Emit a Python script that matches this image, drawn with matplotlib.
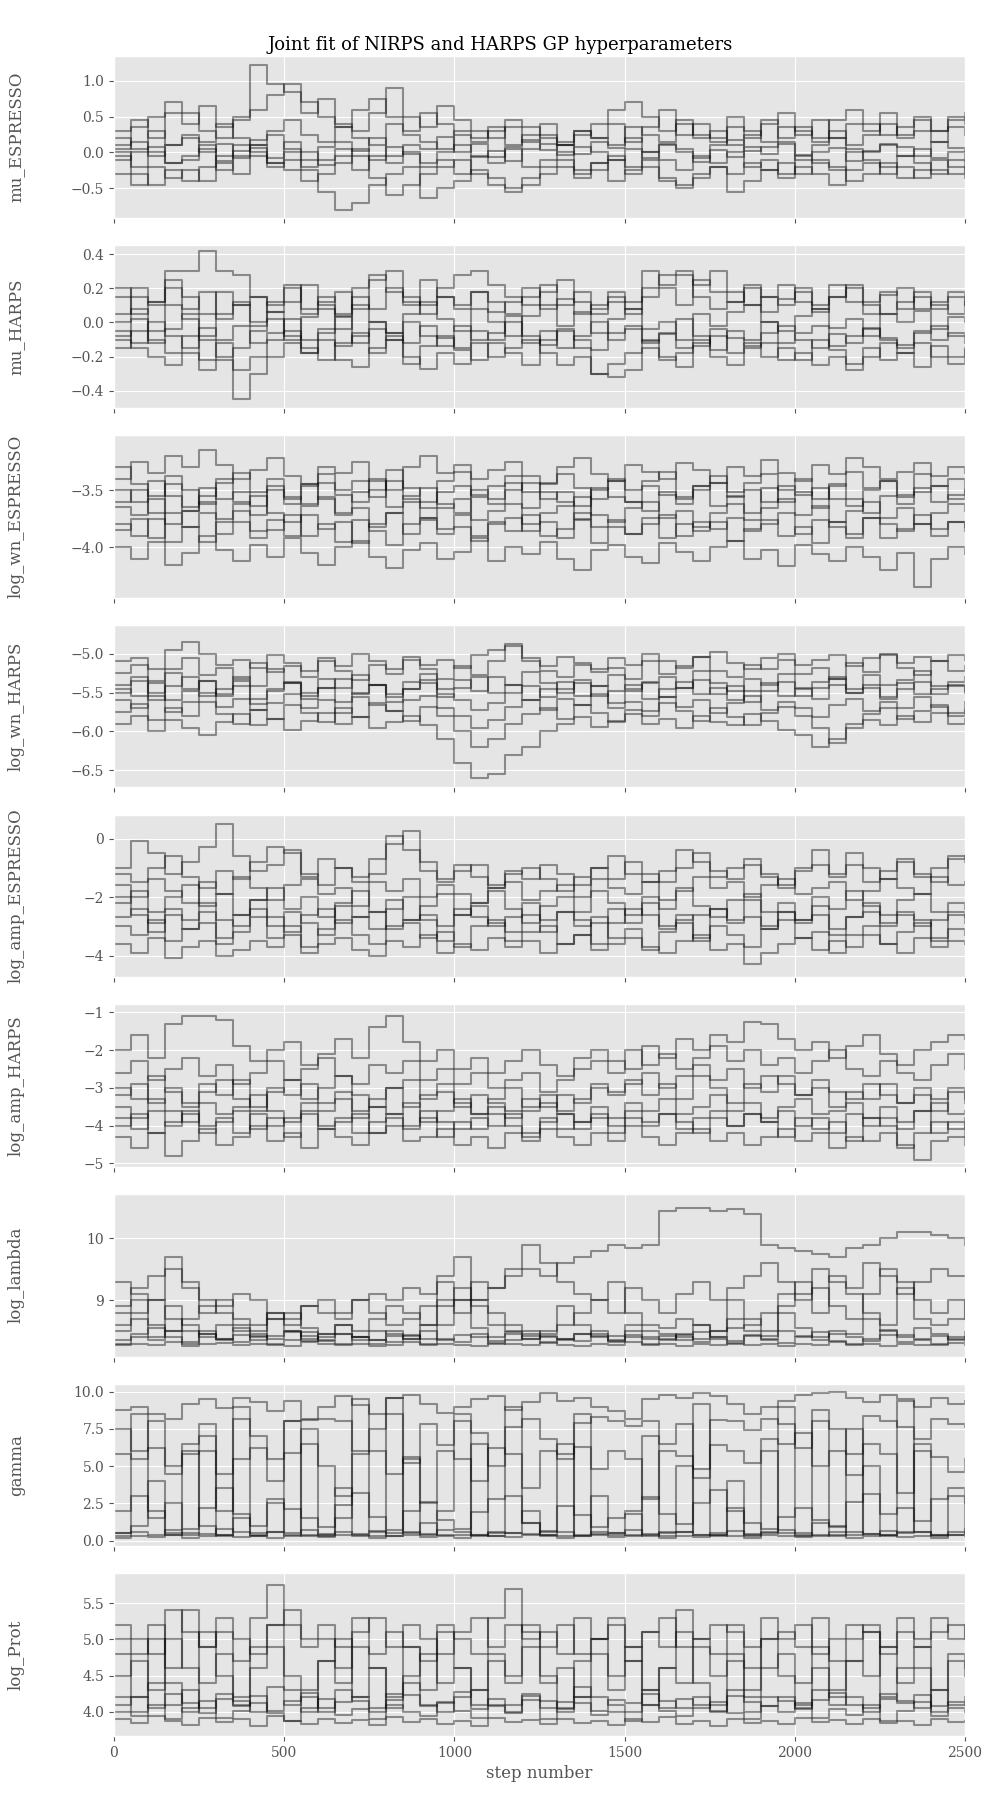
import numpy as np
import matplotlib
matplotlib.use('Agg')
import matplotlib.pyplot as plt

# walker traces, one value every 50 steps (0..2500)
mu_espresso = [
    [0.05, 0.15, -0.05, 0.10, 0.20, 0.00, 0.12, -0.08, 0.18, 0.25, 0.05, -0.10, 0.08, 0.15, 0.02, 0.20, -0.05, 0.10, 0.05, 0.22, 0.00, 0.12, -0.06, 0.08, 0.18, 0.03, 0.10, -0.02, 0.15, 0.06, 0.20, 0.00, 0.12, 0.05, -0.08, 0.10, 0.18, 0.02, 0.08, 0.14, -0.04, 0.10, 0.20, 0.05, 0.00, 0.12, 0.08, -0.05, 0.15, 0.06, 0.02],
    [-0.10, 0.00, 0.08, -0.15, -0.05, 0.10, -0.12, 0.02, 0.06, -0.08, 0.15, 0.00, -0.18, -0.05, 0.05, -0.10, 0.08, -0.02, -0.15, 0.00, 0.10, -0.06, 0.02, -0.12, 0.05, 0.12, -0.04, 0.08, 0.00, -0.10, 0.05, -0.08, 0.10, 0.00, -0.14, 0.04, -0.06, 0.08, -0.02, 0.12, -0.10, 0.00, 0.06, -0.12, 0.02, 0.10, -0.05, 0.05, -0.08, 0.00, -0.12],
    [0.30, 0.45, 0.20, 0.55, 0.40, 0.65, 0.35, 0.50, 1.22, 0.95, 0.85, 0.55, 0.75, 0.40, 0.30, 0.55, 0.90, 0.50, 0.35, 0.65, 0.45, 0.30, 0.20, 0.35, 0.15, 0.25, 0.10, 0.30, 0.20, 0.40, 0.15, 0.35, 0.60, 0.25, 0.40, 0.20, 0.50, 0.30, 0.15, 0.35, 0.25, 0.45, 0.20, 0.40, 0.30, 0.55, 0.25, 0.45, 0.30, 0.50, 0.40],
    [-0.30, -0.45, -0.20, -0.35, -0.25, -0.40, -0.15, -0.30, -0.05, -0.20, -0.10, -0.25, -0.55, -0.80, -0.70, -0.45, -0.30, -0.20, -0.63, -0.50, -0.40, -0.25, -0.35, -0.55, -0.45, -0.30, -0.20, -0.35, -0.25, -0.10, -0.30, -0.20, -0.40, -0.50, -0.35, -0.20, -0.30, -0.15, -0.25, -0.35, -0.20, -0.30, -0.45, -0.25, -0.15, -0.30, -0.20, -0.35, -0.25, -0.30, -0.20],
    [0.20, 0.05, 0.30, 0.10, 0.25, 0.15, 0.40, 0.20, 0.10, 0.30, 0.45, 0.25, 0.15, 0.35, 0.20, 0.10, 0.40, 0.25, 0.15, 0.05, 0.30, 0.20, 0.35, 0.10, 0.25, 0.40, 0.15, 0.30, 0.20, 0.10, 0.35, 0.25, 0.15, 0.40, 0.20, 0.30, 0.10, 0.25, 0.45, 0.20, 0.35, 0.15, 0.30, 0.10, 0.25, 0.40, 0.20, 0.30, 0.15, 0.35, 0.25],
    [-0.05, -0.20, 0.00, -0.15, -0.10, 0.05, -0.25, -0.05, 0.10, -0.15, 0.00, -0.20, -0.10, 0.05, -0.25, -0.05, -0.15, 0.00, -0.20, -0.10, -0.30, -0.05, -0.15, 0.05, -0.20, -0.10, 0.00, -0.25, -0.15, -0.05, -0.20, 0.00, -0.10, -0.25, -0.05, -0.15, 0.00, -0.20, -0.10, -0.30, -0.05, -0.15, -0.25, 0.00, -0.10, -0.20, -0.05, -0.15, -0.30, -0.10, -0.20],
    [0.10, 0.35, 0.50, 0.70, 0.55, 0.30, 0.20, 0.45, 0.60, 0.80, 0.95, 0.70, 0.50, 0.35, 0.60, 0.75, 0.50, 0.30, 0.55, 0.40, 0.25, 0.15, 0.30, 0.45, 0.35, 0.20, 0.10, 0.25, 0.40, 0.60, 0.70, 0.50, 0.30, 0.45, 0.25, 0.15, 0.35, 0.20, 0.40, 0.55, 0.30, 0.20, 0.45, 0.60, 0.40, 0.25, 0.35, 0.50, 0.30, 0.45, 0.55],
    [0.00, -0.30, -0.45, -0.25, -0.40, -0.20, -0.05, 0.10, 0.00, -0.15, -0.25, -0.40, -0.30, -0.15, -0.05, -0.35, -0.60, -0.45, -0.30, -0.20, -0.10, -0.30, -0.45, -0.50, -0.35, -0.20, -0.10, -0.30, -0.15, -0.40, -0.25, -0.10, -0.35, -0.45, -0.30, -0.20, -0.55, -0.40, -0.25, -0.15, -0.30, -0.10, -0.20, -0.40, -0.30, -0.15, -0.35, -0.25, -0.10, -0.20, -0.35],
]
mu_harps = [
    [0.00, 0.08, -0.05, 0.10, 0.02, -0.08, 0.05, 0.12, -0.02, 0.06, -0.10, 0.03, 0.08, -0.04, 0.10, 0.00, -0.06, 0.05, 0.12, 0.02, -0.05, 0.08, 0.00, -0.08, 0.04, 0.10, -0.02, 0.06, -0.06, 0.02, 0.08, -0.04, 0.00, -0.10, 0.05, -0.02, 0.06, 0.10, 0.00, -0.05, 0.04, 0.08, -0.03, 0.02, -0.08, 0.05, 0.00, 0.07, -0.04, 0.03, 0.00],
    [-0.05, -0.12, 0.00, -0.08, -0.15, -0.03, -0.10, -0.02, -0.12, -0.06, 0.02, -0.10, -0.04, -0.14, -0.08, 0.00, -0.06, -0.12, -0.02, -0.09, -0.15, -0.05, -0.10, 0.00, -0.08, -0.13, -0.04, -0.10, -0.16, -0.06, -0.02, -0.11, -0.07, -0.15, -0.12, -0.04, -0.09, -0.14, -0.06, -0.02, -0.10, -0.15, -0.07, -0.12, -0.03, -0.09, -0.13, -0.05, -0.10, -0.06, -0.08],
    [0.20, 0.15, 0.10, 0.30, 0.30, 0.42, 0.30, 0.28, 0.15, 0.10, 0.20, 0.05, 0.12, 0.18, 0.08, 0.25, 0.30, 0.15, 0.10, 0.20, 0.28, 0.30, 0.22, 0.15, 0.10, 0.18, 0.25, 0.12, 0.05, 0.15, 0.08, 0.20, 0.28, 0.30, 0.22, 0.30, 0.18, 0.10, 0.15, 0.22, 0.12, 0.06, 0.15, 0.20, 0.10, 0.05, 0.12, 0.18, 0.08, 0.15, 0.10],
    [-0.10, -0.15, -0.20, -0.25, -0.18, -0.28, -0.22, -0.45, -0.30, -0.20, -0.12, -0.18, -0.10, -0.22, -0.26, -0.15, -0.08, -0.20, -0.27, -0.18, -0.24, -0.12, -0.20, -0.15, -0.10, -0.18, -0.25, -0.20, -0.30, -0.32, -0.28, -0.15, -0.22, -0.18, -0.10, -0.20, -0.25, -0.15, -0.12, -0.22, -0.18, -0.25, -0.20, -0.28, -0.15, -0.22, -0.18, -0.12, -0.20, -0.24, -0.15],
    [0.15, 0.05, 0.12, 0.20, 0.08, 0.18, 0.02, 0.10, 0.15, 0.06, 0.12, 0.22, 0.10, 0.04, 0.15, 0.08, 0.20, 0.12, 0.05, 0.15, 0.10, 0.18, 0.06, 0.12, 0.20, 0.08, 0.14, 0.05, 0.10, 0.18, 0.12, 0.30, 0.22, 0.28, 0.15, 0.08, 0.12, 0.20, 0.06, 0.14, 0.18, 0.10, 0.22, 0.12, 0.05, 0.16, 0.20, 0.08, 0.12, 0.18, 0.10],
    [-0.08, 0.02, -0.12, -0.04, 0.05, -0.10, -0.20, -0.15, -0.05, 0.02, -0.08, -0.18, -0.06, 0.03, -0.12, -0.04, -0.10, 0.00, -0.08, -0.14, -0.02, -0.10, -0.06, 0.04, -0.12, -0.05, -0.15, -0.08, 0.00, -0.10, -0.04, -0.12, -0.06, 0.02, -0.08, -0.16, -0.05, -0.10, 0.00, -0.12, -0.06, -0.02, -0.14, -0.08, -0.04, -0.10, -0.15, -0.06, -0.02, -0.08, -0.12],
    [0.05, 0.20, 0.12, 0.25, 0.15, 0.05, 0.18, 0.10, 0.00, 0.12, 0.22, 0.08, 0.15, 0.05, 0.20, 0.28, 0.18, 0.10, 0.25, 0.15, 0.08, 0.18, 0.12, 0.05, 0.15, 0.22, 0.10, 0.18, 0.08, 0.12, 0.05, 0.15, 0.20, 0.10, 0.25, 0.18, 0.12, 0.22, 0.15, 0.10, 0.20, 0.08, 0.15, 0.22, 0.12, 0.18, 0.08, 0.15, 0.10, 0.05, 0.12],
    [-0.15, -0.05, -0.10, -0.18, -0.08, -0.22, -0.12, -0.28, -0.20, -0.10, -0.05, -0.15, -0.22, -0.12, -0.06, -0.18, -0.10, -0.24, -0.14, -0.08, -0.16, -0.22, -0.12, -0.18, -0.25, -0.10, -0.05, -0.15, -0.30, -0.24, -0.18, -0.10, -0.20, -0.26, -0.14, -0.08, -0.18, -0.12, -0.20, -0.15, -0.22, -0.10, -0.16, -0.24, -0.20, -0.12, -0.18, -0.26, -0.14, -0.20, -0.16],
]
log_wn_espresso = [
    [-3.60, -3.50, -3.70, -3.45, -3.65, -3.55, -3.40, -3.60, -3.72, -3.50, -3.62, -3.45, -3.58, -3.70, -3.52, -3.40, -3.65, -3.55, -3.48, -3.62, -3.70, -3.50, -3.58, -3.44, -3.66, -3.52, -3.60, -3.75, -3.50, -3.42, -3.60, -3.68, -3.52, -3.58, -3.46, -3.64, -3.55, -3.70, -3.48, -3.60, -3.52, -3.66, -3.45, -3.58, -3.70, -3.55, -3.62, -3.48, -3.60, -3.54, -3.50],
    [-3.80, -3.90, -3.75, -3.95, -3.82, -3.70, -3.88, -3.78, -3.92, -3.85, -3.72, -3.90, -3.80, -3.95, -3.76, -3.86, -3.98, -3.80, -3.74, -3.88, -3.82, -3.94, -3.78, -3.86, -3.72, -3.90, -3.84, -3.76, -3.96, -3.82, -3.88, -3.74, -3.92, -3.80, -3.86, -3.78, -3.94, -3.84, -3.76, -3.90, -3.82, -3.96, -3.78, -3.88, -3.74, -3.92, -3.84, -3.80, -3.90, -3.78, -3.86],
    [-3.40, -3.25, -3.35, -3.20, -3.30, -3.15, -3.28, -3.40, -3.32, -3.22, -3.38, -3.45, -3.30, -3.35, -3.25, -3.42, -3.50, -3.30, -3.20, -3.35, -3.28, -3.40, -3.32, -3.25, -3.38, -3.45, -3.30, -3.22, -3.36, -3.42, -3.28, -3.34, -3.40, -3.26, -3.32, -3.44, -3.30, -3.38, -3.24, -3.35, -3.42, -3.28, -3.36, -3.22, -3.30, -3.40, -3.34, -3.26, -3.38, -3.30, -3.35],
    [-4.00, -4.10, -3.95, -4.15, -4.05, -3.90, -4.02, -4.12, -3.98, -4.08, -3.92, -4.05, -4.15, -4.00, -3.94, -4.08, -4.18, -4.02, -3.96, -4.10, -4.04, -3.92, -4.12, -4.00, -4.06, -3.95, -4.10, -4.20, -4.02, -3.98, -4.08, -4.14, -3.96, -4.04, -4.12, -4.00, -3.94, -4.10, -4.02, -4.16, -3.98, -4.06, -4.12, -4.00, -4.08, -4.20, -4.05, -4.35, -4.10, -4.00, -4.06],
    [-3.65, -3.72, -3.58, -3.80, -3.68, -3.60, -3.75, -3.62, -3.55, -3.70, -3.78, -3.64, -3.56, -3.72, -3.66, -3.82, -3.70, -3.60, -3.74, -3.66, -3.58, -3.76, -3.68, -3.62, -3.80, -3.70, -3.64, -3.56, -3.72, -3.78, -3.66, -3.60, -3.74, -3.68, -3.82, -3.70, -3.62, -3.76, -3.66, -3.58, -3.72, -3.64, -3.78, -3.68, -3.60, -3.74, -3.66, -3.80, -3.70, -3.62, -3.68],
    [-3.50, -3.60, -3.42, -3.55, -3.68, -3.48, -3.58, -3.52, -3.64, -3.46, -3.56, -3.62, -3.44, -3.54, -3.60, -3.50, -3.42, -3.58, -3.66, -3.52, -3.46, -3.56, -3.62, -3.50, -3.44, -3.58, -3.52, -3.64, -3.48, -3.56, -3.60, -3.46, -3.54, -3.62, -3.50, -3.44, -3.56, -3.50, -3.60, -3.46, -3.54, -3.48, -3.58, -3.64, -3.50, -3.42, -3.56, -3.52, -3.46, -3.58, -3.52],
    [-3.85, -3.75, -3.92, -3.70, -3.82, -3.95, -3.78, -3.68, -3.86, -3.76, -3.90, -3.72, -3.84, -3.78, -3.96, -3.80, -3.70, -3.88, -3.76, -3.84, -3.72, -3.90, -3.80, -3.74, -3.86, -3.78, -3.92, -3.70, -3.82, -3.76, -3.88, -3.80, -3.72, -3.90, -3.78, -3.84, -3.74, -3.86, -3.80, -3.70, -3.88, -3.76, -3.82, -3.92, -3.74, -3.80, -3.86, -3.72, -3.84, -3.78, -3.82],
    [-3.30, -3.45, -3.55, -3.38, -3.50, -3.62, -3.44, -3.35, -3.52, -3.40, -3.58, -3.46, -3.36, -3.50, -3.42, -3.56, -3.32, -3.48, -3.60, -3.42, -3.34, -3.54, -3.46, -3.38, -3.52, -3.44, -3.36, -3.48, -3.58, -3.40, -3.50, -3.42, -3.34, -3.56, -3.46, -3.38, -3.52, -3.44, -3.36, -3.50, -3.40, -3.58, -3.46, -3.34, -3.48, -3.42, -3.54, -3.36, -3.46, -3.40, -3.50],
]
log_wn_harps = [
    [-5.40, -5.30, -5.50, -5.25, -5.45, -5.35, -5.55, -5.30, -5.42, -5.20, -5.38, -5.50, -5.32, -5.44, -5.28, -5.40, -5.52, -5.36, -5.26, -5.46, -5.34, -5.48, -5.30, -5.40, -5.24, -5.38, -5.50, -5.34, -5.42, -5.28, -5.46, -5.36, -5.30, -5.44, -5.22, -5.38, -5.48, -5.32, -5.40, -5.26, -5.44, -5.36, -5.30, -5.46, -5.28, -5.40, -5.34, -5.22, -5.42, -5.36, -5.30],
    [-5.60, -5.70, -5.55, -5.75, -5.62, -5.50, -5.68, -5.58, -5.72, -5.64, -5.52, -5.70, -5.60, -5.76, -5.56, -5.66, -5.74, -5.60, -5.54, -5.70, -5.80, -5.95, -5.85, -5.68, -5.60, -5.72, -5.58, -5.66, -5.52, -5.70, -5.62, -5.74, -5.56, -5.68, -5.60, -5.76, -5.64, -5.54, -5.72, -5.62, -5.70, -5.82, -5.66, -5.58, -5.74, -5.62, -5.70, -5.56, -5.68, -5.76, -5.62],
    [-5.10, -5.05, -5.20, -4.95, -4.85, -5.00, -5.15, -5.08, -5.18, -5.02, -5.12, -5.22, -5.06, -5.16, -5.00, -5.10, -5.20, -5.04, -5.14, -5.08, -5.18, -5.02, -4.95, -4.90, -5.10, -5.16, -5.04, -5.12, -5.20, -5.06, -5.14, -5.00, -5.10, -5.18, -5.04, -4.98, -5.12, -5.20, -5.06, -5.00, -5.14, -5.08, -5.02, -5.16, -5.06, -5.00, -5.12, -5.04, -5.10, -5.02, -5.08],
    [-5.90, -5.80, -6.00, -5.85, -5.95, -6.05, -5.88, -5.78, -5.92, -5.84, -5.98, -5.86, -5.76, -5.90, -5.82, -5.96, -5.88, -5.80, -5.92, -6.10, -6.40, -6.60, -6.55, -6.30, -6.20, -6.00, -5.90, -5.82, -5.94, -5.86, -5.78, -5.90, -5.84, -5.96, -5.80, -5.88, -5.92, -5.78, -5.86, -5.98, -6.05, -6.20, -6.10, -5.95, -5.85, -5.92, -5.80, -5.88, -5.76, -5.90, -5.84],
    [-5.45, -5.55, -5.38, -5.60, -5.48, -5.35, -5.52, -5.42, -5.58, -5.46, -5.36, -5.54, -5.44, -5.62, -5.50, -5.40, -5.56, -5.46, -5.38, -5.52, -5.60, -5.72, -5.64, -5.50, -5.42, -5.56, -5.46, -5.38, -5.54, -5.48, -5.40, -5.58, -5.46, -5.36, -5.52, -5.44, -5.60, -5.48, -5.38, -5.54, -5.46, -5.58, -5.40, -5.50, -5.44, -5.56, -5.38, -5.52, -5.46, -5.40, -5.50],
    [-5.25, -5.15, -5.35, -5.20, -5.05, -5.28, -5.18, -5.32, -5.12, -5.24, -5.16, -5.30, -5.10, -5.22, -5.34, -5.14, -5.26, -5.08, -5.20, -5.32, -5.16, -5.28, -5.10, -4.88, -5.05, -5.22, -5.30, -5.14, -5.24, -5.18, -5.32, -5.10, -5.26, -5.16, -5.04, -5.22, -5.30, -5.14, -5.20, -5.08, -5.26, -5.18, -5.32, -5.12, -5.24, -5.02, -5.18, -5.28, -5.10, -5.22, -5.16],
    [-5.75, -5.65, -5.85, -5.70, -5.80, -5.62, -5.78, -5.90, -5.72, -5.84, -5.66, -5.76, -5.88, -5.70, -5.82, -5.64, -5.74, -5.86, -5.68, -5.80, -6.00, -6.20, -6.10, -5.90, -5.78, -5.70, -5.84, -5.66, -5.76, -5.88, -5.72, -5.80, -5.64, -5.74, -5.86, -5.70, -5.82, -5.92, -5.76, -5.68, -5.80, -5.96, -6.15, -5.90, -5.78, -5.70, -5.84, -5.74, -5.66, -5.80, -5.72],
    [-5.50, -5.35, -5.60, -5.42, -5.30, -5.55, -5.45, -5.35, -5.65, -5.48, -5.38, -5.58, -5.44, -5.32, -5.52, -5.40, -5.62, -5.46, -5.34, -5.56, -5.44, -5.30, -5.50, -5.40, -5.60, -5.46, -5.36, -5.54, -5.42, -5.64, -5.48, -5.38, -5.56, -5.44, -5.34, -5.52, -5.42, -5.62, -5.48, -5.36, -5.54, -5.44, -5.32, -5.50, -5.40, -5.58, -5.46, -5.36, -5.52, -5.42, -5.48],
]
log_amp_espresso = [
    [-2.20, -1.80, -2.50, -2.00, -1.60, -2.30, -1.90, -2.60, -2.10, -1.70, -2.40, -2.00, -2.70, -2.20, -1.80, -2.50, -2.10, -2.80, -2.30, -1.90, -2.60, -2.20, -1.80, -2.40, -2.90, -2.30, -2.00, -2.50, -1.80, -2.20, -2.60, -2.00, -2.40, -1.70, -2.30, -2.70, -2.10, -1.90, -2.50, -2.20, -2.80, -2.00, -2.40, -1.80, -2.30, -2.60, -2.10, -1.90, -2.50, -2.20, -2.40],
    [-3.00, -3.30, -2.80, -3.50, -3.10, -2.90, -3.60, -3.20, -2.70, -3.40, -3.00, -3.70, -3.10, -2.80, -3.30, -3.60, -3.00, -2.90, -3.40, -3.20, -3.70, -3.00, -2.80, -3.50, -3.20, -3.00, -3.60, -3.30, -2.90, -3.40, -3.10, -3.80, -3.20, -2.90, -3.50, -3.00, -3.30, -3.70, -3.10, -2.80, -3.40, -3.20, -3.90, -3.30, -3.00, -3.60, -3.20, -2.90, -3.50, -3.10, -3.30],
    [-1.00, -0.10, -0.50, -1.20, -0.80, -0.30, 0.50, -0.60, -1.10, -0.90, -0.40, -1.30, -0.70, -1.00, -1.50, -1.20, -0.20, 0.25, -0.80, -1.40, -1.10, -0.90, -1.60, -1.20, -1.00, -1.40, -1.80, -1.30, -1.00, -0.60, -1.20, -1.50, -1.10, -0.40, -0.80, -1.30, -1.00, -0.70, -1.20, -1.60, -1.10, -0.90, -1.30, -0.50, -1.00, -1.40, -0.80, -1.20, -1.50, -0.70, -0.60],
    [-3.60, -3.90, -3.40, -4.10, -3.70, -3.50, -4.00, -3.80, -3.50, -3.70, -3.30, -3.90, -3.60, -3.40, -3.80, -4.00, -3.50, -3.70, -3.30, -3.90, -3.60, -3.80, -3.40, -3.70, -3.50, -3.90, -3.60, -3.30, -3.80, -3.60, -3.40, -3.70, -3.90, -3.50, -3.30, -3.80, -3.60, -4.30, -3.90, -3.60, -3.40, -3.80, -3.50, -3.70, -3.30, -3.60, -3.90, -3.40, -3.70, -3.50, -3.60],
    [-1.60, -2.00, -1.40, -1.80, -2.20, -1.50, -1.90, -1.30, -1.70, -2.10, -1.60, -1.40, -1.90, -1.70, -2.30, -1.50, -1.80, -1.40, -2.00, -1.60, -1.90, -2.20, -1.70, -1.50, -2.10, -1.80, -1.60, -2.00, -1.40, -1.70, -1.90, -1.50, -2.10, -1.80, -1.30, -1.70, -1.50, -2.00, -1.60, -1.40, -1.90, -1.70, -1.50, -2.10, -1.80, -1.40, -1.70, -1.90, -1.30, -1.60, -1.50],
    [-2.70, -2.40, -2.90, -2.60, -3.10, -2.50, -2.80, -3.00, -2.40, -2.70, -3.20, -2.60, -2.40, -2.90, -2.70, -2.50, -3.10, -2.80, -2.60, -3.00, -2.40, -2.70, -2.90, -3.20, -2.60, -2.80, -2.50, -3.00, -2.70, -2.90, -2.40, -2.60, -3.10, -2.80, -2.60, -2.40, -2.90, -2.70, -3.00, -2.50, -2.80, -2.60, -3.10, -2.70, -2.50, -2.90, -2.60, -3.00, -2.80, -2.50, -2.70],
    [-1.20, -1.50, -1.00, -0.60, -1.30, -1.70, -1.10, -1.40, -0.80, -0.30, -0.50, -1.20, -1.60, -1.00, -1.30, -0.70, 0.10, -0.40, -1.10, -1.50, -0.90, -1.30, -1.70, -1.10, -1.40, -0.90, -1.20, -1.60, -1.00, -1.40, -0.80, -1.20, -1.50, -1.00, -0.50, -1.10, -1.40, -0.90, -1.30, -1.70, -1.00, -0.40, -1.20, -0.90, -1.50, -1.10, -0.70, -1.30, -1.00, -0.60, -0.80],
    [-2.00, -2.60, -3.20, -2.40, -2.80, -2.20, -3.40, -2.60, -2.10, -3.00, -2.50, -2.90, -3.30, -2.30, -2.70, -3.10, -2.40, -2.00, -2.80, -3.50, -2.60, -2.30, -3.00, -2.70, -2.20, -3.20, -2.50, -2.80, -3.60, -2.40, -2.90, -2.20, -3.00, -2.60, -3.40, -2.40, -2.80, -2.10, -3.10, -2.50, -2.90, -2.30, -3.30, -2.70, -2.20, -3.00, -2.50, -2.80, -3.40, -2.60, -2.90],
]
log_amp_harps = [
    [-3.20, -2.90, -3.40, -3.00, -3.50, -3.10, -2.80, -3.30, -3.60, -3.00, -3.20, -2.90, -3.40, -3.10, -3.60, -3.30, -3.00, -3.50, -3.20, -2.90, -3.40, -3.70, -3.30, -3.00, -3.50, -3.20, -3.60, -3.30, -2.90, -3.10, -2.80, -3.20, -2.90, -3.30, -2.70, -3.00, -3.40, -2.90, -3.10, -2.70, -3.20, -3.00, -3.50, -3.10, -3.30, -2.90, -3.40, -3.20, -3.60, -3.00, -3.30],
    [-3.80, -4.10, -3.60, -4.00, -3.70, -4.20, -3.90, -3.60, -4.10, -3.80, -4.30, -3.70, -4.00, -3.80, -4.20, -3.90, -3.70, -4.10, -3.80, -4.30, -3.90, -4.10, -3.70, -4.00, -4.30, -3.80, -4.10, -3.90, -3.70, -4.20, -3.80, -4.00, -3.70, -3.90, -4.20, -3.80, -4.00, -3.70, -3.90, -4.30, -3.80, -4.10, -3.90, -4.40, -3.80, -4.00, -4.60, -4.20, -3.90, -4.10, -3.80],
    [-2.00, -1.60, -2.20, -1.30, -1.10, -1.10, -1.20, -1.90, -2.30, -2.00, -1.80, -2.40, -2.10, -1.70, -2.20, -1.40, -1.10, -1.80, -2.30, -2.00, -2.50, -2.20, -2.60, -2.30, -2.00, -2.40, -2.70, -2.20, -2.00, -2.30, -2.50, -1.90, -2.20, -1.70, -2.00, -1.60, -1.80, -1.25, -1.30, -1.70, -2.00, -1.80, -2.20, -1.90, -1.60, -2.10, -2.40, -2.00, -1.80, -1.60, -1.70],
    [-4.30, -4.60, -4.20, -4.80, -4.40, -4.10, -4.50, -4.30, -4.00, -4.40, -4.20, -4.60, -4.10, -4.30, -4.50, -4.20, -4.00, -4.40, -4.30, -4.10, -4.50, -4.30, -4.60, -4.20, -4.40, -4.10, -4.30, -4.50, -4.20, -4.40, -4.00, -4.30, -4.50, -4.20, -4.10, -4.40, -4.20, -4.50, -4.30, -4.10, -4.40, -4.20, -4.60, -4.30, -4.40, -4.20, -4.50, -4.90, -4.40, -4.30, -4.50],
    [-2.60, -2.30, -2.80, -2.50, -2.20, -2.70, -2.40, -2.90, -2.60, -2.30, -2.80, -2.50, -2.20, -2.70, -2.90, -2.40, -2.60, -2.30, -2.80, -2.50, -2.90, -2.60, -3.00, -2.80, -2.60, -3.10, -2.80, -2.50, -2.30, -2.60, -2.00, -2.40, -2.10, -2.50, -2.20, -1.90, -2.30, -2.00, -2.40, -2.20, -2.60, -2.30, -2.00, -2.50, -2.70, -2.30, -2.60, -2.80, -2.40, -2.10, -2.50],
    [-3.50, -3.80, -3.30, -3.60, -3.90, -3.40, -3.70, -3.50, -3.20, -3.60, -3.90, -3.40, -3.60, -3.30, -3.80, -3.50, -3.70, -3.40, -3.90, -3.60, -3.30, -3.70, -3.50, -3.80, -3.60, -3.40, -3.70, -3.90, -3.50, -3.80, -3.40, -3.60, -3.30, -3.70, -3.50, -3.20, -3.60, -3.40, -3.80, -3.50, -3.30, -3.70, -3.60, -3.40, -3.80, -3.50, -3.90, -3.60, -3.40, -3.70, -3.60],
    [-3.00, -3.30, -2.70, -3.10, -3.40, -2.90, -3.20, -2.80, -3.50, -3.10, -2.80, -3.30, -3.00, -2.70, -3.20, -3.50, -3.00, -2.80, -3.30, -3.10, -3.50, -3.20, -3.40, -3.60, -3.30, -3.50, -3.20, -3.40, -3.00, -3.20, -2.90, -2.60, -3.00, -2.70, -2.40, -2.80, -2.50, -3.00, -2.70, -2.90, -3.20, -2.80, -3.10, -3.30, -2.90, -3.20, -3.40, -3.00, -3.30, -3.10, -3.40],
    [-4.00, -3.70, -4.20, -3.90, -3.60, -4.00, -3.80, -4.20, -3.70, -4.00, -3.80, -3.60, -4.10, -3.90, -3.70, -4.20, -3.80, -4.00, -3.60, -3.90, -4.10, -3.80, -4.00, -3.70, -4.20, -3.90, -3.70, -4.10, -3.80, -4.00, -3.60, -3.90, -3.70, -4.10, -3.80, -3.60, -4.00, -3.70, -3.90, -3.60, -4.00, -3.80, -4.20, -3.70, -4.00, -3.80, -4.10, -3.60, -4.20, -3.90, -4.30],
]
log_lambda = [
    [8.90, 9.20, 9.40, 9.70, 9.30, 9.00, 8.80, 8.70, 8.60, 8.80, 8.70, 8.90, 9.00, 8.80, 9.00, 9.10, 9.00, 9.20, 9.10, 9.30, 9.00, 9.30, 9.20, 9.40, 9.50, 9.40, 9.60, 9.70, 9.80, 9.90, 9.85, 9.90, 10.45, 10.50, 10.50, 10.45, 10.48, 10.40, 9.90, 9.85, 9.80, 9.75, 9.70, 9.85, 9.90, 10.00, 10.10, 10.10, 10.05, 10.00, 9.90],
    [9.30, 9.10, 9.00, 9.50, 9.20, 8.80, 8.90, 9.10, 9.00, 8.70, 8.60, 8.90, 8.80, 8.70, 9.00, 8.80, 8.60, 8.70, 8.90, 9.00, 8.80, 9.00, 9.20, 9.50, 9.90, 9.60, 9.30, 9.10, 9.00, 8.80, 9.20, 9.00, 8.80, 9.10, 9.30, 9.00, 9.20, 9.40, 9.60, 9.30, 9.10, 9.50, 9.30, 9.20, 9.60, 9.40, 9.10, 9.30, 9.50, 9.40, 9.40],
    [8.30, 8.40, 8.35, 8.50, 8.30, 8.45, 8.38, 8.32, 8.42, 8.30, 8.36, 8.48, 8.34, 8.30, 8.40, 8.35, 8.32, 8.44, 8.30, 8.38, 8.33, 8.45, 8.30, 8.36, 8.42, 8.31, 8.38, 8.34, 8.46, 8.32, 8.40, 8.30, 8.36, 8.44, 8.32, 8.38, 8.30, 8.42, 8.35, 8.31, 8.40, 8.48, 8.34, 8.30, 8.38, 8.44, 8.32, 8.36, 8.30, 8.40, 8.34],
    [8.50, 8.70, 8.40, 8.90, 8.60, 8.45, 8.35, 8.55, 8.40, 8.80, 8.50, 8.38, 8.45, 8.60, 8.40, 8.35, 8.50, 8.42, 8.38, 8.60, 9.00, 8.55, 8.40, 8.45, 8.38, 8.50, 8.90, 8.60, 8.42, 8.36, 8.50, 8.40, 8.38, 8.45, 8.60, 8.40, 8.70, 8.50, 8.42, 8.80, 8.55, 8.40, 8.50, 8.45, 8.70, 8.50, 8.40, 8.55, 8.45, 8.38, 8.48],
    [8.27, 8.30, 8.28, 8.32, 8.26, 8.29, 8.31, 8.27, 8.30, 8.28, 8.26, 8.33, 8.29, 8.27, 8.30, 8.26, 8.28, 8.32, 8.27, 8.30, 8.28, 8.26, 8.31, 8.29, 8.27, 8.33, 8.28, 8.26, 8.30, 8.28, 8.32, 8.27, 8.29, 8.26, 8.30, 8.28, 8.31, 8.27, 8.29, 8.26, 8.30, 8.28, 8.32, 8.27, 8.29, 8.26, 8.30, 8.28, 8.27, 8.31, 8.28],
    [8.60, 8.80, 9.00, 8.70, 8.50, 8.40, 8.60, 8.50, 8.45, 8.38, 8.50, 8.42, 8.36, 8.45, 8.40, 8.50, 8.45, 8.38, 8.60, 9.40, 9.70, 8.90, 8.60, 8.50, 8.45, 8.40, 8.38, 8.45, 8.50, 8.42, 8.60, 8.50, 8.45, 8.40, 8.38, 8.50, 9.00, 8.70, 8.50, 8.90, 9.30, 8.80, 9.40, 9.10, 8.80, 8.60, 9.20, 8.70, 8.60, 8.70, 9.00],
    [8.35, 8.45, 8.55, 8.40, 8.32, 8.50, 8.38, 8.44, 8.36, 8.42, 8.48, 8.34, 8.40, 8.46, 8.36, 8.30, 8.42, 8.38, 8.50, 8.36, 8.44, 8.40, 8.34, 8.48, 8.38, 8.42, 8.36, 8.46, 8.40, 8.34, 8.44, 8.38, 8.42, 8.36, 8.48, 8.40, 8.34, 8.44, 8.38, 8.50, 8.42, 8.36, 8.46, 8.40, 8.34, 8.52, 8.44, 8.38, 8.42, 8.36, 8.40],
    [8.80, 9.00, 8.60, 8.50, 8.70, 8.90, 9.00, 8.60, 8.50, 8.70, 8.80, 8.55, 8.45, 8.60, 8.50, 8.70, 8.90, 8.80, 8.60, 8.90, 9.20, 9.00, 8.80, 8.60, 8.50, 8.45, 8.60, 8.80, 9.00, 9.30, 8.80, 8.60, 8.55, 8.70, 8.60, 8.50, 8.55, 8.60, 8.80, 9.10, 9.00, 9.20, 8.90, 8.70, 9.10, 9.50, 9.30, 9.00, 8.80, 9.00, 8.70],
]
gamma = [
    [0.20, 0.30, 0.25, 0.35, 0.20, 0.30, 0.40, 0.25, 0.30, 0.20, 0.35, 0.30, 0.25, 0.40, 0.30, 0.20, 0.30, 0.35, 0.25, 0.30, 0.20, 0.40, 0.30, 0.25, 0.35, 0.30, 0.20, 0.30, 0.40, 0.25, 0.30, 0.35, 0.20, 0.30, 0.25, 0.40, 0.30, 0.20, 0.35, 0.30, 0.25, 0.30, 0.40, 0.20, 0.30, 0.35, 0.25, 0.30, 0.20, 0.35, 0.30],
    [0.50, 0.60, 0.40, 0.70, 0.50, 0.45, 0.80, 0.55, 0.40, 0.60, 0.50, 0.70, 0.45, 0.55, 0.40, 0.65, 0.50, 0.60, 0.45, 0.70, 0.55, 0.40, 0.60, 0.50, 0.45, 0.65, 0.55, 0.40, 0.60, 0.50, 0.70, 0.45, 0.55, 0.60, 0.40, 0.50, 0.65, 0.45, 0.55, 0.70, 0.50, 0.40, 0.60, 0.55, 0.45, 0.65, 0.50, 0.60, 0.40, 0.55, 0.50],
    [8.80, 9.00, 8.50, 8.20, 9.20, 9.50, 8.90, 9.60, 9.30, 8.70, 9.40, 8.20, 9.00, 9.70, 9.10, 8.50, 9.60, 9.80, 9.20, 8.60, 9.00, 9.50, 9.70, 8.80, 9.30, 9.90, 9.40, 9.60, 9.00, 8.70, 8.20, 9.50, 9.80, 9.60, 9.90, 9.70, 9.20, 8.50, 9.00, 9.40, 9.80, 9.90, 10.00, 9.60, 9.30, 9.80, 9.50, 9.00, 9.60, 9.20, 9.40],
    [7.50, 6.00, 8.00, 5.00, 6.50, 7.80, 4.50, 8.20, 7.00, 5.50, 8.00, 8.10, 8.20, 8.00, 6.00, 7.50, 8.50, 5.20, 7.80, 6.40, 8.00, 7.20, 5.00, 7.60, 8.20, 6.80, 5.50, 7.90, 8.30, 8.00, 7.70, 8.00, 6.50, 7.80, 4.80, 8.10, 8.00, 7.40, 8.20, 7.80, 6.20, 8.00, 7.50, 5.80, 8.40, 8.00, 7.60, 6.80, 8.20, 7.80, 7.60],
    [0.50, 8.50, 2.00, 0.40, 6.00, 1.00, 0.30, 9.00, 0.50, 2.50, 0.30, 7.50, 0.40, 1.50, 9.50, 0.60, 0.30, 5.50, 0.40, 2.00, 8.50, 0.30, 0.50, 9.00, 1.20, 0.40, 6.50, 0.30, 3.00, 0.50, 0.40, 7.00, 0.30, 0.60, 9.20, 0.40, 2.20, 0.30, 6.00, 0.50, 0.30, 8.80, 1.00, 0.40, 5.00, 0.30, 9.40, 0.60, 0.40, 3.50, 0.50],
    [2.00, 3.00, 1.50, 2.50, 0.80, 2.20, 3.50, 1.80, 1.00, 2.80, 2.10, 1.50, 0.90, 2.40, 3.20, 1.60, 0.70, 2.00, 2.60, 1.40, 0.80, 1.90, 2.80, 3.00, 1.20, 0.60, 2.30, 1.70, 0.90, 1.50, 2.00, 2.90, 1.80, 1.10, 2.50, 3.40, 2.00, 1.20, 0.80, 1.60, 2.20, 1.40, 0.90, 2.60, 3.10, 1.80, 2.20, 1.30, 2.80, 3.00, 2.50],
    [5.80, 5.50, 6.20, 4.50, 5.80, 6.00, 2.00, 5.50, 6.20, 4.00, 5.90, 6.50, 5.00, 3.00, 5.80, 6.00, 4.50, 5.60, 2.50, 6.00, 5.50, 4.00, 6.20, 5.80, 3.50, 6.00, 5.80, 6.30, 4.80, 6.00, 5.50, 2.80, 6.00, 5.70, 4.20, 6.40, 6.00, 5.20, 6.80, 6.50, 7.20, 5.00, 6.00, 4.40, 6.50, 5.80, 3.20, 6.00, 5.60, 4.60, 5.50],
    [0.30, 1.00, 4.00, 0.50, 0.35, 7.00, 0.40, 1.50, 0.30, 0.60, 8.00, 0.40, 0.30, 3.50, 0.45, 0.30, 9.60, 0.50, 1.20, 0.35, 0.40, 6.50, 0.30, 0.50, 2.00, 0.40, 0.30, 8.50, 0.45, 0.35, 1.80, 0.30, 0.50, 5.00, 0.40, 0.30, 4.00, 0.35, 0.50, 9.00, 0.40, 1.20, 0.30, 7.50, 0.45, 0.35, 0.60, 6.50, 0.30, 0.40, 0.80],
]
log_prot = [
    [4.00, 3.95, 4.10, 3.90, 4.05, 4.15, 3.92, 4.02, 4.12, 3.98, 3.88, 4.06, 4.18, 3.96, 4.04, 3.90, 4.10, 4.00, 3.94, 4.14, 4.02, 3.92, 4.08, 3.98, 4.16, 3.90, 4.04, 4.12, 3.96, 4.00, 3.88, 4.10, 4.02, 3.94, 4.06, 4.14, 3.98, 3.90, 4.08, 4.00, 4.12, 3.92, 4.04, 3.96, 4.10, 3.88, 4.02, 4.14, 3.94, 4.06, 4.00],
    [4.10, 4.20, 4.05, 4.25, 4.12, 3.98, 4.18, 4.08, 4.22, 4.02, 4.15, 4.26, 4.06, 4.14, 4.20, 4.00, 4.16, 4.24, 4.08, 4.12, 4.28, 4.04, 4.18, 4.10, 4.22, 4.06, 4.14, 4.20, 4.02, 4.16, 4.12, 4.25, 4.06, 4.18, 4.10, 4.02, 4.22, 4.14, 4.08, 4.20, 4.04, 4.16, 4.26, 4.10, 4.06, 4.18, 4.12, 4.24, 4.08, 4.14, 4.10],
    [5.00, 4.80, 5.20, 4.60, 5.40, 4.90, 5.10, 4.70, 5.30, 5.75, 5.20, 4.90, 5.00, 4.60, 5.30, 4.80, 5.10, 4.90, 4.70, 5.20, 5.00, 4.80, 5.30, 5.70, 5.10, 4.90, 5.20, 4.80, 5.00, 5.30, 4.70, 5.10, 4.90, 5.40, 5.00, 4.80, 5.20, 4.60, 5.00, 5.10, 4.90, 5.30, 4.70, 5.00, 5.20, 4.80, 5.10, 4.90, 5.30, 5.00, 5.20],
    [4.80, 4.20, 5.00, 4.40, 4.00, 5.10, 4.50, 4.10, 4.90, 5.20, 4.30, 4.00, 4.70, 5.00, 4.20, 4.60, 4.05, 4.90, 4.30, 5.10, 4.60, 4.10, 4.80, 4.40, 5.20, 4.50, 4.00, 4.70, 5.00, 4.30, 4.90, 4.10, 4.60, 5.10, 4.40, 4.00, 4.80, 4.20, 5.00, 4.50, 4.10, 4.90, 4.30, 4.70, 5.10, 4.20, 4.60, 4.90, 4.00, 4.80, 4.60],
    [3.90, 3.85, 3.95, 3.88, 3.82, 3.92, 3.86, 3.90, 3.80, 3.94, 3.87, 3.83, 3.91, 3.85, 3.89, 3.82, 3.93, 3.86, 3.90, 3.84, 3.88, 3.81, 3.92, 3.86, 3.89, 3.83, 3.91, 3.85, 3.88, 3.82, 3.90, 3.86, 3.93, 3.84, 3.88, 3.81, 3.90, 3.85, 3.87, 3.83, 3.92, 3.86, 3.89, 3.84, 3.91, 3.85, 3.88, 3.82, 3.90, 3.86, 3.88],
    [4.50, 4.70, 4.30, 5.00, 4.60, 4.40, 4.80, 4.20, 4.60, 4.90, 4.50, 4.30, 4.70, 4.40, 4.90, 4.60, 4.20, 4.50, 4.80, 4.40, 4.60, 4.30, 4.70, 4.50, 4.90, 4.40, 4.60, 4.20, 4.80, 4.50, 4.70, 4.30, 4.60, 4.40, 4.90, 4.50, 4.70, 4.30, 4.60, 4.80, 4.40, 4.60, 4.20, 4.70, 4.50, 4.90, 4.40, 4.60, 4.30, 4.70, 4.50],
    [5.20, 5.00, 4.80, 5.40, 5.10, 4.90, 5.30, 5.00, 4.80, 5.20, 5.40, 5.00, 5.20, 4.90, 5.10, 5.30, 4.90, 5.20, 5.00, 4.80, 5.10, 5.30, 4.90, 5.20, 5.00, 5.10, 4.80, 5.30, 5.00, 5.20, 4.90, 5.10, 5.30, 4.90, 5.00, 5.20, 5.10, 4.90, 5.30, 5.00, 5.20, 4.80, 5.00, 5.20, 5.10, 4.90, 5.30, 5.00, 5.10, 5.20, 5.00],
    [4.20, 4.00, 4.40, 4.10, 4.30, 4.05, 4.25, 4.15, 4.00, 4.35, 4.10, 4.20, 4.00, 4.30, 4.15, 4.05, 4.25, 4.40, 4.10, 4.00, 4.20, 4.30, 4.10, 4.00, 4.25, 4.15, 4.05, 4.35, 4.20, 4.10, 4.00, 4.30, 4.15, 4.05, 4.20, 4.10, 4.30, 4.00, 4.20, 4.15, 4.05, 4.30, 4.10, 4.20, 4.00, 4.25, 4.15, 4.05, 4.30, 4.10, 4.20],
]

labels = ['mu_ESPRESSO', 'mu_HARPS', 'log_wn_ESPRESSO', 'log_wn_HARPS',
          'log_amp_ESPRESSO', 'log_amp_HARPS', 'log_lambda', 'gamma', 'log_Prot']
chains = [mu_espresso, mu_harps, log_wn_espresso, log_wn_harps,
          log_amp_espresso, log_amp_harps, log_lambda, gamma, log_prot]
ylims = [(-0.92, 1.35), (-0.50, 0.45), (-4.44, -3.02), (-6.72, -4.63),
         (-4.74, 0.82), (-5.09, -0.79), (8.09, 10.72), (-0.38, 10.54), (3.67, 5.91)]
n_steps = 2500

plt.style.use('ggplot')
plt.rcParams['font.family'] = 'serif'

fig, axes = plt.subplots(len(labels), figsize=(10, 18), sharex=True)
fig.subplots_adjust(left=0.114, right=0.965, top=0.969, bottom=0.0356, hspace=0.167)
for ax, walkers, label, lim in zip(axes, chains, labels, ylims):
    for w in walkers:
        x = np.linspace(0, n_steps, len(w))
        ax.plot(x, w, 'k', alpha=0.4, drawstyle='steps-post')
    ax.set_xlim(0, n_steps)
    ax.set_ylim(*lim)
    ax.set_ylabel(label)
    ax.yaxis.set_label_coords(-0.105, 0.5)

axes[-1].set_xlabel('step number')
fig.suptitle('Joint fit of NIRPS and HARPS GP hyperparameters', fontsize=13)
fig.savefig('out.png', dpi=100)
